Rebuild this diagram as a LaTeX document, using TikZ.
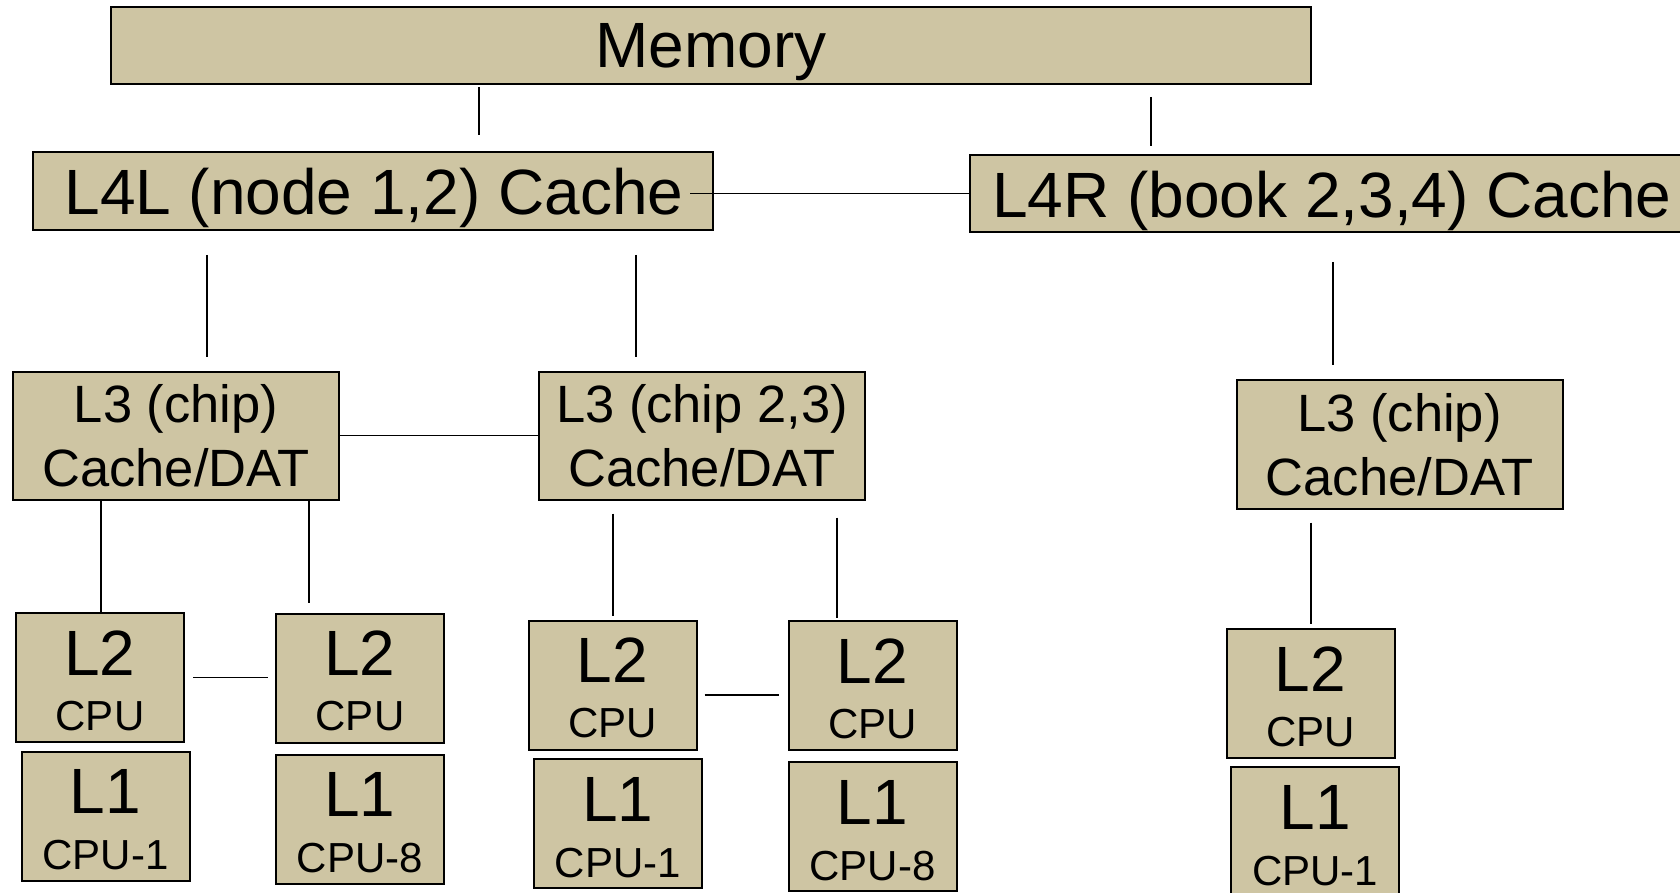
\documentclass[tikz,border=0pt]{standalone}
\usepackage{fontspec}
\setmainfont{Liberation Sans}
\definecolor{boxtan}{RGB}{206,197,163}
\newcommand\FntBig{\fontsize{64}{64}\selectfont}
\newcommand\FntMid{\fontsize{52.5}{52.5}\selectfont}
\newcommand\FntSmall{\fontsize{42}{42}\selectfont}
\begin{document}
\begin{tikzpicture}[x=1pt,y=-1pt,
  cbox/.style={draw=black, line width=2pt, fill=boxtan, rectangle, inner sep=0pt},
  conn/.style={draw=black, line width=1.7pt},
  txt/.style={inner sep=0pt, text=black}]
\clip (0,0) rectangle (1680,893);
\fill[white] (0,0) rectangle (1680,893);
% boxes
\node[cbox, minimum width=1200pt, minimum height=77pt] (mem) at (711,45.5) {};
\node[cbox, minimum width=680pt, minimum height=78pt] (l4l) at (373,191) {};
\node[cbox, minimum width=730pt, minimum height=77pt] (l4r) at (1335,193.5) {};
\node[cbox, minimum width=326pt, minimum height=128pt] (l3a) at (176,435.5) {};
\node[cbox, minimum width=326pt, minimum height=128pt] (l3b) at (702,435.5) {};
\node[cbox, minimum width=326pt, minimum height=129pt] (l3c) at (1399.5,444) {};
\node[cbox, minimum width=168pt, minimum height=129pt] (l2a) at (100,677.5) {};
\node[cbox, minimum width=168pt, minimum height=129pt] (l2b) at (360,678) {};
\node[cbox, minimum width=168pt, minimum height=129pt] (l2c) at (612.5,685) {};
\node[cbox, minimum width=168pt, minimum height=129pt] (l2d) at (872.5,685.5) {};
\node[cbox, minimum width=168pt, minimum height=129pt] (l2e) at (1310.5,693.5) {};
\node[cbox, minimum width=168pt, minimum height=129pt] (l1a) at (105.5,816) {};
\node[cbox, minimum width=168pt, minimum height=129pt] (l1b) at (360,819) {};
\node[cbox, minimum width=168pt, minimum height=129pt] (l1c) at (618,823.5) {};
\node[cbox, minimum width=168pt, minimum height=129pt] (l1d) at (872.5,826.5) {};
\node[cbox, minimum width=168pt, minimum height=129pt] (l1e) at (1315,831.5) {};
% texts
\node[txt, font=\FntBig, anchor=base] (tmem) at ([yshift=-62pt]mem.north) {Memory};
\node[txt, font=\FntBig, anchor=base] (tl4l) at ([xshift=1pt,yshift=-64pt]l4l.north) {L4L (node 1,2) Cache};
\node[txt, font=\FntBig, anchor=base west] (tl4r) at ([xshift=23pt,yshift=-64pt]l4r.north west) {L4R (book 2,3,4) Cache};
\node[txt, font=\FntMid, anchor=base] (l3at1) at ([yshift=-52pt]l3a.north) {L3 (chip)};
\node[txt, font=\FntMid, anchor=base] (l3at2) at ([yshift=-116pt]l3a.north) {Cache/DAT};
\node[txt, font=\FntMid, anchor=base] (l3bt1) at ([yshift=-52pt]l3b.north) {L3 (chip 2,3)};
\node[txt, font=\FntMid, anchor=base] (l3bt2) at ([yshift=-116pt]l3b.north) {Cache/DAT};
\node[txt, font=\FntMid, anchor=base] (l3ct1) at ([yshift=-53pt]l3c.north) {L3 (chip)};
\node[txt, font=\FntMid, anchor=base] (l3ct2) at ([yshift=-117pt]l3c.north) {Cache/DAT};
\foreach \b in {l2a,l2b,l2c,l2d,l2e}{
  \node[txt, font=\FntBig, anchor=base] (\b t1) at ([yshift=-63pt]\b.north) {L2};
  \node[txt, font=\FntSmall, anchor=base] (\b t2) at ([yshift=-118pt]\b.north) {CPU};
}
\foreach \b/\lab in {l1a/CPU-1, l1b/CPU-8, l1c/CPU-1, l1d/CPU-8, l1e/CPU-1}{
  \node[txt, font=\FntBig, anchor=base] (\b t1) at ([yshift=-63pt]\b.north) {L1};
  \node[txt, font=\FntSmall, anchor=base] (\b t2) at ([yshift=-119pt]\b.north) {\lab};
}
% connectors
\draw[conn] ([xshift=-232pt,yshift=-2pt]mem.south) -- ([xshift=106pt,yshift=16pt]l4l.north);
\draw[conn] ([xshift=440pt,yshift=-12pt]mem.south) -- ([xshift=-184pt,yshift=8pt]l4r.north);
\draw[conn] ([xshift=-24pt,yshift=-2.5pt]l4l.east) -- (l4r.west);
\draw[conn] ([xshift=-166pt,yshift=-24pt]l4l.south) -- ([xshift=31pt,yshift=14pt]l3a.north);
\draw[conn] ([xshift=263pt,yshift=-24pt]l4l.south) -- ([xshift=-66pt,yshift=14pt]l3b.north);
\draw[conn] ([xshift=-2pt,yshift=-29pt]l4r.south) -- ([xshift=-66.5pt,yshift=14pt]l3c.north);
\draw[conn] (l3a.east) -- (l3b.west);
\draw[conn] ([xshift=-75pt]l3a.south) -- ([xshift=1pt]l2a.north);
\draw[conn] ([xshift=133pt]l3a.south) -- ([xshift=-51pt,yshift=10pt]l2b.north);
\draw[conn] ([xshift=-89pt,yshift=-13pt]l3b.south) -- ([xshift=0.5pt,yshift=4pt]l2c.north);
\draw[conn] ([xshift=135pt,yshift=-17pt]l3b.south) -- ([xshift=-35.5pt,yshift=2pt]l2d.north);
\draw[conn] ([xshift=-88.5pt,yshift=-13pt]l3c.south) -- ([xshift=0.5pt,yshift=4pt]l2e.north);
\draw[conn] ([xshift=8pt]l2a.east) -- ([xshift=-7pt,yshift=0.5pt]l2b.west);
\draw[conn] ([xshift=7pt,yshift=-10pt]l2c.east) -- ([xshift=-9pt,yshift=-9.5pt]l2d.west);
\end{tikzpicture}
\end{document}
